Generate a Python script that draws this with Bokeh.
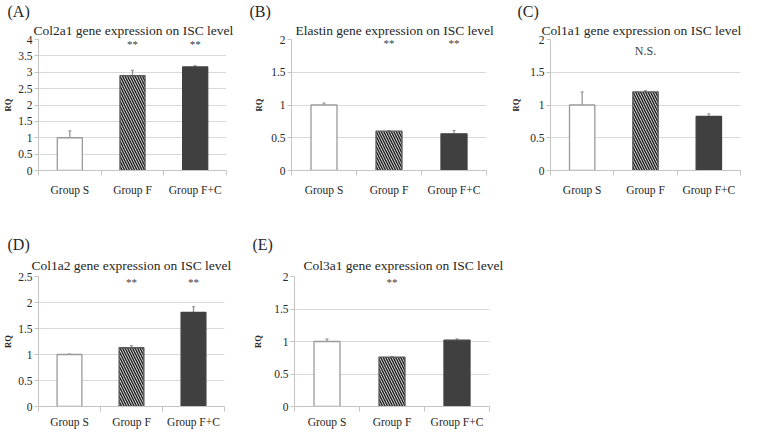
from bokeh.plotting import figure
from bokeh.models import (Range1d, FixedTicker, Whisker, ColumnDataSource, Title,
                          TeeHead, NumeralTickFormatter)
from bokeh.layouts import row, column
from bokeh.embed import file_html
from bokeh.resources import INLINE
from bokeh.core.properties import value

# ---------------- data ----------------
categories = ["Group S", "Group F", "Group F+C"]

col2a1_values = [1.0, 2.9, 3.16]
col2a1_errors = [0.21, 0.16, 0.04]
col2a1_marks = ["", "**", "**"]
col2a1_yticks = ["0", "0.5", "1", "1.5", "2", "2.5", "3", "3.5", "4"]

elastin_values = [1.0, 0.6, 0.56]
elastin_errors = [0.03, 0.01, 0.05]
elastin_marks = ["", "**", "**"]
elastin_yticks = ["0", "0.5", "1", "1.5", "2"]

col1a1_values = [1.0, 1.2, 0.825]
col1a1_errors = [0.2, 0.02, 0.04]
col1a1_marks = ["", "N.S.", ""]
col1a1_yticks = ["0", "0.5", "1", "1.5", "2"]

col1a2_values = [1.0, 1.13, 1.81]
col1a2_errors = [0.01, 0.04, 0.11]
col1a2_marks = ["", "**", "**"]
col1a2_yticks = ["0", "0.5", "1", "1.5", "2", "2.5"]

col3a1_values = [1.0, 0.76, 1.02]
col3a1_errors = [0.04, 0.01, 0.02]
col3a1_marks = ["", "**", ""]
col3a1_yticks = ["0", "0.5", "1", "1.5", "2"]

# ---------------- styles ----------------
FONT = "Liberation Serif"
TXT = "#262626"
AXIS = "#c4c4c4"
GRID = "#d9d9d9"
bar_fill = ["white", "white", "#404040"]
bar_line = ["#9a9a9a", "#595959", "#404040"]
bar_hatch = [" ", "\\", " "]


def make_panel(spec):
    fw, fh = spec["fw"], spec["fh"]
    ymax = float(spec["yticks"][-1])
    p = figure(width=spec["lb"] + fw + spec["rb"], height=spec["tb"] + fh + spec["bb"],
               x_range=Range1d(0, len(categories)), y_range=Range1d(0, ymax),
               output_backend="svg", toolbar_location=None,
               min_border_left=spec["lb"], min_border_right=spec["rb"],
               min_border_top=spec["tb"], min_border_bottom=spec["bb"],
               title=spec["letter"])
    p.outline_line_color = None
    p.background_fill_color = "white"
    p.border_fill_color = "white"

    # panel letter (outermost title line)
    p.title.align = "left"
    p.title.offset = spec["letter_off"]
    p.title.text_font = FONT
    p.title.text_font_size = "16px"
    p.title.text_font_style = "normal"
    p.title.text_color = TXT
    p.title.standoff = 0

    # chart title (line nearest the frame)
    p.add_layout(Title(text=spec["title"], align="left", offset=spec["title_off"],
                       text_font=FONT, text_font_size="13.5px", text_font_style="normal",
                       text_color=TXT, standoff=spec["tstand"]), "above")

    xs = [i + 0.5 for i in range(len(categories))]
    vals, errs = spec["values"], spec["errors"]
    src = ColumnDataSource(dict(
        x=xs, top=vals, upper=[v + e for v, e in zip(vals, errs)],
        fill=bar_fill, line=bar_line, hatch=bar_hatch,
        mark=spec["marks"], marky=[spec["mark_y"]] * len(xs)))

    p.vbar(x="x", top="top", bottom=0, width=0.4, source=src,
           fill_color="fill", line_color="line", line_width=1.3,
           hatch_pattern="hatch", hatch_color="#262626", hatch_scale=5,
           hatch_weight=1.6)
    p.add_layout(Whisker(source=src, base="x", lower="top", upper="upper",
                         line_color="#8c8c8c", line_width=1.2, lower_head=None,
                         upper_head=TeeHead(size=3, line_color="#8c8c8c", line_width=1)))
    p.text(x="x", y="marky", text="mark", source=src, text_align="center",
           text_baseline="middle", text_font=value(FONT),
           text_font_size=spec.get("mark_size", "11px"), text_color="#404040")

    # x axis: labels at category centres, ticks at category boundaries
    xa = p.xaxis[0]
    xa.ticker = FixedTicker(ticks=xs, minor_ticks=[float(i) for i in range(len(categories) + 1)])
    xa.major_label_overrides = {x: c for x, c in zip(xs, categories)}
    xa.major_tick_out = 0
    xa.major_tick_in = 0
    xa.minor_tick_out = 5
    xa.minor_tick_in = 0
    xa.minor_tick_line_color = AXIS
    xa.axis_line_color = AXIS
    xa.major_label_text_font = FONT
    xa.major_label_text_font_size = "11.5px"
    xa.major_label_text_color = TXT
    xa.major_label_standoff = spec["xstand"]
    p.xgrid.grid_line_color = None

    ya = p.yaxis[0]
    ya.ticker = FixedTicker(ticks=[float(t) for t in spec["yticks"]], minor_ticks=[])
    ya.formatter = NumeralTickFormatter(format="0.[0]")
    ya.major_tick_out = 4
    ya.major_tick_in = 0
    ya.major_tick_line_color = AXIS
    ya.axis_line_color = AXIS
    ya.major_label_text_font = FONT
    ya.major_label_text_font_size = "11.5px"
    ya.major_label_text_color = TXT
    ya.major_label_standoff = 2
    ya.axis_label = "RQ"
    ya.axis_label_text_font = FONT
    ya.axis_label_text_font_size = "8.5px"
    ya.axis_label_text_font_style = "bold"
    ya.axis_label_text_color = TXT
    ya.axis_label_standoff = spec["rq_stand"]
    p.ygrid.grid_line_color = GRID
    p.ygrid.grid_line_width = 1
    return p


panels = [
    dict(values=col2a1_values, errors=col2a1_errors, marks=col2a1_marks, yticks=col2a1_yticks,
         mark_y=3.87, title="Col2a1 gene expression on ISC level", letter="(A)",
         fw=194, fh=133, lb=32, rb=10, tb=37, bb=42, xstand=8, tstand=3,
         letter_off=-31, title_off=-5, rq_stand=2),
    dict(values=elastin_values, errors=elastin_errors, marks=elastin_marks, yticks=elastin_yticks,
         mark_y=1.94, title="Elastin gene expression on ISC level", letter="(B)",
         fw=195, fh=133, lb=55, rb=14, tb=37, bb=42, xstand=8, tstand=3,
         letter_off=-42, title_off=4, rq_stand=4),
    dict(values=col1a1_values, errors=col1a1_errors, marks=col1a1_marks, yticks=col1a1_yticks,
         mark_y=1.83, mark_size="12px", title="Col1a1 gene expression on ISC level", letter="(C)",
         fw=190, fh=133, lb=50, rb=4, tb=37, bb=42, xstand=8, tstand=3,
         letter_off=-33, title_off=-9, rq_stand=6),
    dict(values=col1a2_values, errors=col1a2_errors, marks=col1a2_marks, yticks=col1a2_yticks,
         mark_y=2.4, title="Col1a2 gene expression on ISC level", letter="(D)",
         fw=192, fh=135, lb=32, rb=12, tb=64, bb=19, xstand=4, tstand=7,
         letter_off=-31, title_off=-7, rq_stand=2),
    dict(values=col3a1_values, errors=col3a1_errors, marks=col3a1_marks, yticks=col3a1_yticks,
         mark_y=1.92, title="Col3a1 gene expression on ISC level", letter="(E)",
         fw=195, fh=135, lb=58, rb=22, tb=64, bb=19, xstand=4, tstand=7,
         letter_off=-42, title_off=9, rq_stand=8),
]

figs = [make_panel(s) for s in panels]
layout = column(row(figs[0], figs[1], figs[2]), row(figs[3], figs[4]))

open("out.html", "w").write(file_html(layout, INLINE))
